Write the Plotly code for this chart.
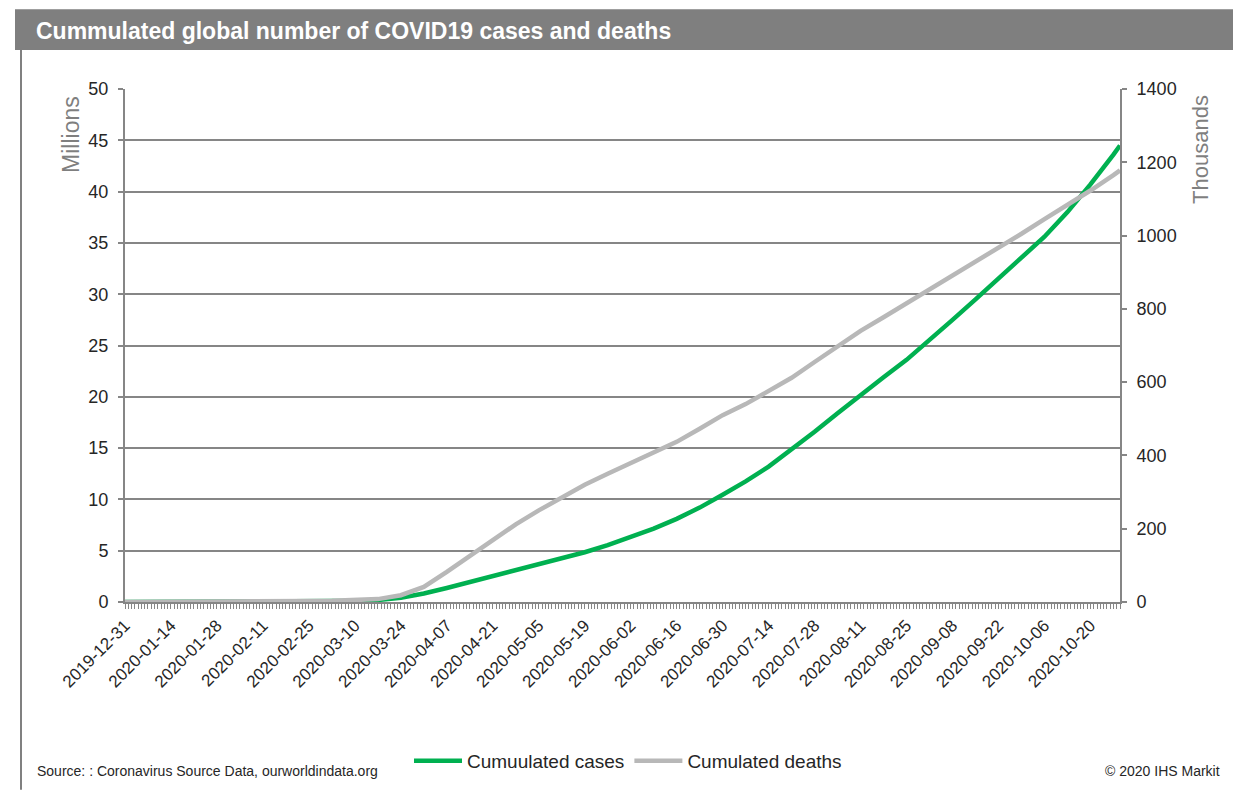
import pandas as pd
import plotly.graph_objects as go

# Weekly readings of cumulated global totals
dates = [
    "2019-12-31", "2020-01-07", "2020-01-14", "2020-01-21", "2020-01-28",
    "2020-02-04", "2020-02-11", "2020-02-18", "2020-02-25", "2020-03-03",
    "2020-03-10", "2020-03-17", "2020-03-24", "2020-03-31", "2020-04-07",
    "2020-04-14", "2020-04-21", "2020-04-28", "2020-05-05", "2020-05-12",
    "2020-05-19", "2020-05-26", "2020-06-02", "2020-06-09", "2020-06-16",
    "2020-06-23", "2020-06-30", "2020-07-07", "2020-07-14", "2020-07-21",
    "2020-07-28", "2020-08-04", "2020-08-11", "2020-08-18", "2020-08-25",
    "2020-09-01", "2020-09-08", "2020-09-15", "2020-09-22", "2020-09-29",
    "2020-10-06", "2020-10-13", "2020-10-20", "2020-10-27", "2020-10-29",
]

# Cumulated cases, millions
cases_m = [
    0.0, 0.0, 0.0, 0.0003, 0.005,
    0.02, 0.045, 0.075, 0.08, 0.09,
    0.115, 0.19, 0.42, 0.83, 1.37,
    1.94, 2.5, 3.05, 3.6, 4.2,
    4.85, 5.55, 6.3, 7.15, 8.1,
    9.2, 10.45, 11.75, 13.2, 14.85,
    16.6, 18.4, 20.2, 21.9, 23.6,
    25.5, 27.5, 29.5, 31.5, 33.5,
    35.6, 38.0, 40.7, 43.6, 44.5,
]

# Cumulated deaths, thousands
deaths_k = [
    0.0, 0.0, 0.0, 0.006, 0.1,
    0.4, 1.0, 1.9, 2.7, 3.1,
    4.3, 7.9, 18.5, 41, 82,
    125, 170, 212, 250, 285,
    320, 350, 378, 408, 437,
    473, 510, 540, 575, 612,
    655, 697, 740, 777, 815,
    852, 890, 926, 965, 1005,
    1045, 1083, 1123, 1165, 1178,
]

left_ticks = [0, 5, 10, 15, 20, 25, 30, 35, 40, 45, 50]
right_ticks = [0, 200, 400, 600, 800, 1000, 1200, 1400]

W, H = 1233, 791
L, R, T, B = 125, 1120, 89, 603  # plot area in pixels


def px_x(p):
    return (p - L) / (R - L)


def px_y(p):
    return (B - p) / (B - T)


x = pd.to_datetime(dates)
GREEN = "#00b050"
GREY_LINE = "#b8b8b8"
AXIS = "#868686"
TXT = "#262626"
FONT = "Liberation Sans, Arial, sans-serif"

# One tick per day along the category axis, labelled every 14 days
day_ticks = pd.date_range(x[0], x[-1], freq="D")
day_text = [d.strftime("%Y-%m-%d") if i % 14 == 0 else "" for i, d in enumerate(day_ticks)]

fig = go.Figure()
fig.add_trace(go.Scatter(
    x=x, y=deaths_k, name="Cumulated deaths", yaxis="y2",
    mode="lines", line=dict(color=GREY_LINE, width=4.5),
))
fig.add_trace(go.Scatter(
    x=x, y=cases_m, name="Cumuulated cases", yaxis="y",
    mode="lines", line=dict(color=GREEN, width=4.5),
))

fig.update_layout(
    width=W, height=H,
    margin=dict(l=L, r=W - R, t=T, b=H - B, pad=0),
    paper_bgcolor="white", plot_bgcolor="white",
    font=dict(family=FONT, color=TXT),
    showlegend=True,
    legend=dict(
        orientation="h", x=px_x(628), xanchor="center", y=px_y(761), yanchor="middle",
        font=dict(size=19, color=TXT), traceorder="reversed",
        itemwidth=48, bgcolor="rgba(0,0,0,0)",
    ),
    xaxis=dict(
        type="date", range=[x[0], x[-1]],
        tickmode="array", tickvals=day_ticks, ticktext=day_text,
        tickangle=-45, tickfont=dict(size=17, color=TXT),
        ticks="outside", ticklen=5, tickcolor=AXIS, tickwidth=1,
        showline=True, linecolor=AXIS, linewidth=2, showgrid=False,
        zeroline=False,
    ),
    yaxis=dict(
        range=[0, 50], tickvals=left_ticks, ticks="outside", ticklen=5,
        tickcolor=AXIS, tickwidth=1.5, tickfont=dict(size=18, color=TXT),
        showline=True, linecolor=AXIS, linewidth=2,
        showgrid=True, gridcolor=AXIS, gridwidth=1.5, zeroline=False,
        ticklabelstandoff=6,
    ),
    yaxis2=dict(
        range=[0, 1400], tickvals=right_ticks, overlaying="y", side="right",
        ticks="outside", ticklen=5, tickcolor=AXIS, tickwidth=1.5,
        tickfont=dict(size=18, color=TXT),
        showline=True, linecolor=AXIS, linewidth=2, showgrid=False, zeroline=False,
        ticklabelstandoff=6,
    ),
)

# Title bar and frame line
fig.add_shape(type="rect", xref="paper", yref="paper",
              x0=px_x(15), x1=px_x(1233), y0=px_y(50), y1=px_y(9),
              fillcolor="#7f7f7f", line=dict(width=0), layer="below")
fig.add_shape(type="line", xref="paper", yref="paper",
              x0=px_x(21), x1=px_x(21), y0=px_y(50), y1=px_y(791),
              line=dict(color="#808080", width=2))

annotations = [
    dict(text="<b>Cummulated global number of COVID19 cases and deaths</b>",
         x=px_x(34), y=px_y(31), xanchor="left", yanchor="middle",
         font=dict(size=23, color="white")),
    dict(text="Millions", x=px_x(71), y=px_y(135), textangle=-90,
         xanchor="center", yanchor="middle", font=dict(size=23, color="#7f7f7f")),
    dict(text="Thousands", x=px_x(1201), y=px_y(150), textangle=-90,
         xanchor="center", yanchor="middle", font=dict(size=22, color="#7f7f7f")),
    dict(text="Source: : Coronavirus Source Data, ourworldindata.org",
         x=px_x(35), y=px_y(772), xanchor="left", yanchor="middle",
         font=dict(size=14, color=TXT)),
    dict(text="© 2020 IHS Markit", x=px_x(1222), y=px_y(772),
         xanchor="right", yanchor="middle", font=dict(size=14, color=TXT)),
]
for a in annotations:
    a.update(xref="paper", yref="paper", showarrow=False)
    fig.add_annotation(**a)

fig.write_html("out.html")
